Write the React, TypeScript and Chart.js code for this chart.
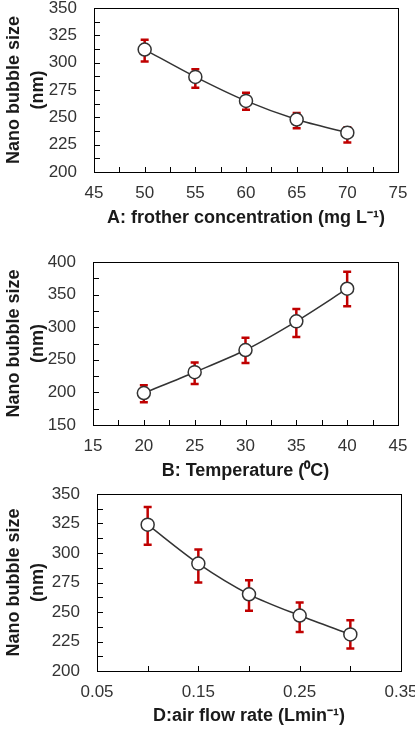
import React, { useEffect, useRef } from "react";
import { Chart, registerables } from "chart.js";
Chart.register(...registerables);

// Panel A: frother concentration
const xA = [50, 55, 60, 65, 70];
const yA = [312, 287, 265, 248, 236];
const hiA = [321, 294, 272.5, 254, 241];
const loA = [301, 277, 257, 240, 227];
const xTicksA = [45, 50, 55, 60, 65, 70, 75];
const yTicksA = [200, 225, 250, 275, 300, 325, 350];

// Panel B: temperature
const xB = [20, 25, 30, 35, 40];
const yB = [199, 231, 265, 309, 359];
const hiB = [211, 246, 284, 328, 385];
const loB = [185, 213, 245, 285, 332];
const xTicksB = [15, 20, 25, 30, 35, 40, 45];
const yTicksB = [150, 200, 250, 300, 350, 400];

// Panel D: air flow rate
const xD = [0.1, 0.15, 0.2, 0.25, 0.3];
const yD = [324, 291, 265, 247, 231];
const hiD = [339, 303, 277, 258, 243];
const loD = [307, 275, 251, 233, 219];
const xTicksD = [0.05, 0.15, 0.25, 0.35];
const yTicksD = [200, 225, 250, 275, 300, 325, 350];

const FONT = "'Liberation Sans', Arial, sans-serif";
const TICK = "#333";
const TXT = "#1a1a1a";

const framePlugin = {
  id: "frameAndErr",
  beforeDatasetsDraw(chart: any) {
    const { ctx, scales } = chart;
    const xs = scales.x, ys = scales.y;
    ctx.save();
    chart.data.datasets.forEach((ds: any) => {
      ctx.strokeStyle = "#c00000";
      ctx.lineWidth = 2.5;
      ds.data.forEach((p: any, i: number) => {
        const px = xs.getPixelForValue(p.x);
        const pHi = ys.getPixelForValue(ds.errHi[i]);
        const pLo = ys.getPixelForValue(ds.errLo[i]);
        ctx.beginPath();
        ctx.moveTo(px, pHi);
        ctx.lineTo(px, pLo);
        ctx.moveTo(px - 4, pHi);
        ctx.lineTo(px + 4, pHi);
        ctx.moveTo(px - 4, pLo);
        ctx.lineTo(px + 4, pLo);
        ctx.stroke();
      });
    });
    ctx.restore();
  },
  afterDraw(chart: any) {
    const { ctx, chartArea, scales } = chart;
    const o = chart.options.plugins.frameAndErr;
    ctx.save();
    ctx.strokeStyle = "#000";
    ctx.lineWidth = 1;
    ctx.strokeRect(
      Math.round(chartArea.left) + 0.5,
      Math.round(chartArea.top) + 0.5,
      Math.round(chartArea.right - chartArea.left),
      Math.round(chartArea.bottom - chartArea.top)
    );
    const xs = scales.x, ys = scales.y;
    ctx.beginPath();
    for (let v = xs.min; v <= xs.max + 1e-9; v += o.xMinor) {
      const px = Math.round(xs.getPixelForValue(v)) + 0.5;
      ctx.moveTo(px, chartArea.bottom);
      ctx.lineTo(px, chartArea.bottom - 5);
    }
    for (let v = ys.min; v <= ys.max + 1e-9; v += o.yMinor) {
      const py = Math.round(ys.getPixelForValue(v)) + 0.5;
      ctx.moveTo(chartArea.left, py);
      ctx.lineTo(chartArea.left + 6, py);
    }
    ctx.stroke();
    ctx.restore();
  },
};

type PanelProps = {
  top: number;
  height: number;
  xs: number[];
  ys: number[];
  hi: number[];
  lo: number[];
  xTicks: number[];
  yTicks: number[];
  xMinor: number;
  yMinor: number;
  xTitle: string;
  xDec: number;
  yW: number;
  xH: number;
  pad: { left: number; right: number; top: number; bottom: number };
};

function Panel(p: PanelProps) {
  const ref = useRef<HTMLCanvasElement>(null);
  useEffect(() => {
    const chart = new Chart(ref.current!, {
      type: "line",
      data: {
        datasets: [
          {
            data: p.xs.map((x, i) => ({ x, y: p.ys[i] })),
            errHi: p.hi,
            errLo: p.lo,
            borderColor: "#333",
            borderWidth: 1.5,
            tension: 0.3,
            pointRadius: 6.5,
            pointBorderWidth: 1.5,
            pointBorderColor: "#333",
            pointBackgroundColor: "#fff",
          } as any,
        ],
      },
      options: {
        animation: false,
        responsive: false,
        layout: { padding: p.pad },
        plugins: {
          legend: { display: false },
          tooltip: { enabled: false },
          frameAndErr: { xMinor: p.xMinor, yMinor: p.yMinor },
        } as any,
        scales: {
          x: {
            type: "linear",
            min: p.xTicks[0],
            max: p.xTicks[p.xTicks.length - 1],
            grid: { display: false, drawTicks: false },
            border: { display: false },
            afterBuildTicks: (s: any) => {
              s.ticks = p.xTicks.map((v) => ({ value: v }));
            },
            afterFit: (s: any) => {
              s.height = p.xH;
              s.paddingLeft = 0;
              s.paddingRight = 0;
            },
            ticks: {
              autoSkip: false,
              maxRotation: 0,
              padding: 11,
              color: TICK,
              font: { family: FONT, size: 17 },
              callback: (v: any) => Number(v).toFixed(p.xDec),
            },
            title: {
              display: true,
              text: p.xTitle,
              color: TXT,
              font: { family: FONT, size: 18, weight: "bold" },
              padding: { top: 0, bottom: -3 },
            },
          },
          y: {
            type: "linear",
            min: p.yTicks[0],
            max: p.yTicks[p.yTicks.length - 1],
            grid: { display: false, drawTicks: false },
            border: { display: false },
            afterBuildTicks: (s: any) => {
              s.ticks = p.yTicks.map((v) => ({ value: v }));
            },
            afterFit: (s: any) => {
              s.width = p.yW;
              s.paddingTop = 0;
              s.paddingBottom = 0;
            },
            ticks: {
              autoSkip: false,
              padding: 17,
              color: TICK,
              font: { family: FONT, size: 17 },
            },
            title: {
              display: true,
              text: ["Nano bubble size", "(nm)"],
              color: TXT,
              font: { family: FONT, size: 18, weight: "bold", lineHeight: 1.33 },
              padding: { top: 0, bottom: 0 },
            },
          },
        },
      } as any,
      plugins: [framePlugin],
    });
    return () => chart.destroy();
  }, []);
  return (
    <canvas
      ref={ref}
      width={415}
      height={p.height}
      style={{ position: "absolute", left: 0, top: p.top, width: 415, height: p.height }}
    />
  );
}

export default function App() {
  return (
    <div style={{ position: "fixed", left: 0, top: 0, width: 415, height: 733, background: "#fff", overflow: "hidden" }}>
      <Panel
        top={0}
        height={232}
        xs={xA}
        ys={yA}
        hi={hiA}
        lo={loA}
        xTicks={xTicksA}
        yTicks={yTicksA}
        xMinor={2.5}
        yMinor={12.5}
        xTitle="A: frother concentration (mg L⁻¹)"
        xDec={0}
        yW={92}
        xH={54}
        pad={{ left: 2, right: 17, top: 8, bottom: 6 }}
      />
      <Panel
        top={232}
        height={248}
        xs={xB}
        ys={yB}
        hi={hiB}
        lo={loB}
        xTicks={xTicksB}
        yTicks={yTicksB}
        xMinor={2.5}
        yMinor={25}
        xTitle="B: Temperature (⁰C)"
        xDec={0}
        yW={91}
        xH={54}
        pad={{ left: 2, right: 17, top: 30, bottom: 1 }}
      />
      <Panel
        top={480}
        height={253}
        xs={xD}
        ys={yD}
        hi={hiD}
        lo={loD}
        xTicks={xTicksD}
        yTicks={yTicksD}
        xMinor={0.05}
        yMinor={12.5}
        xTitle="D:air flow rate (Lmin⁻¹)"
        xDec={2}
        yW={95}
        xH={53}
        pad={{ left: 2, right: 14, top: 14, bottom: 9 }}
      />
    </div>
  );
}
